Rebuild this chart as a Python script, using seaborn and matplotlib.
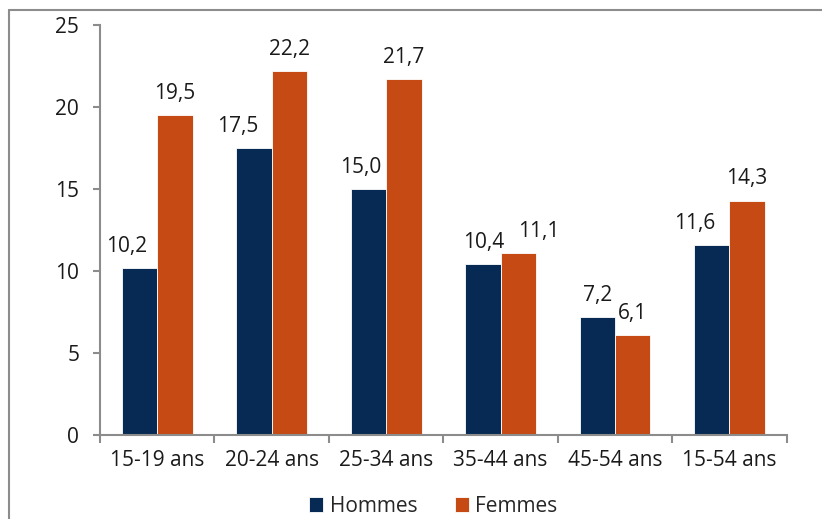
import matplotlib
matplotlib.use("Agg")
import matplotlib.pyplot as plt
import matplotlib.lines as mlines
import seaborn as sns
import pandas as pd
from matplotlib.ticker import FixedLocator

categories = ["15-19 ans", "20-24 ans", "25-34 ans", "35-44 ans", "45-54 ans", "15-54 ans"]
hommes = [10.2, 17.5, 15.0, 10.4, 7.2, 11.6]
femmes = [19.5, 22.2, 21.7, 11.1, 6.1, 14.3]
series = ["Hommes", "Femmes"]
yticks = [0, 5, 10, 15, 20, 25]

# horizontal nudges (pixels) for value labels, to keep neighbours from colliding
label_shift_h = [-13, -16, -8, 1, 0, -17.5]
label_shift_f = [0, 0, 0, 20, 0, 0]

df = pd.DataFrame({
    "groupe": categories * 2,
    "valeur": hommes + femmes,
    "sexe": [series[0]] * len(categories) + [series[1]] * len(categories),
})

sns.set_theme(style="white")
plt.rcParams["font.family"] = ["Open Sans", "DejaVu Sans"]

FS = 15
DPI = 100
PAD = 8

fig = plt.figure(figsize=(8.22, 5.19), dpi=DPI)
ax = fig.add_axes([0.1217, 0.1618, 0.8353, 0.79])

palette = {"Hommes": "#062a53", "Femmes": "#c64a14"}
sns.barplot(data=df, x="groupe", y="valeur", hue="sexe", order=categories,
            hue_order=series, palette=palette, width=0.62, gap=0,
            edgecolor="white", linewidth=0.6, saturation=1, ax=ax)

for cont, shifts in zip(ax.containers, [label_shift_h, label_shift_f]):
    anns = ax.bar_label(cont, labels=[f"{v:.1f}".replace(".", ",") for v in cont.datavalues],
                        padding=PAD, fontsize=FS, color="#1a1a1a")
    for ann, dx in zip(anns, shifts):
        ann.xyann = (dx * 72 / DPI, PAD)

ax.set_ylim(0, 25)
ax.set_xlim(-0.5, len(categories) - 0.5)
ax.set_yticks(yticks)
ax.set_xlabel("")
ax.set_ylabel("")

for s in ["top", "right"]:
    ax.spines[s].set_visible(False)
for s in ["left", "bottom"]:
    ax.spines[s].set_color("#8c8c8c")
    ax.spines[s].set_linewidth(1.5)

ax.tick_params(axis="y", which="major", left=True, length=5, width=1.5, color="#8c8c8c",
               pad=10, labelsize=FS, labelcolor="#1a1a1a")
ax.tick_params(axis="x", which="major", bottom=False, length=0, pad=11,
               labelsize=FS, labelcolor="#1a1a1a")
ax.xaxis.set_minor_locator(FixedLocator([i - 0.5 for i in range(len(categories) + 1)]))
ax.tick_params(axis="x", which="minor", bottom=True, length=6, width=1.5, color="#8c8c8c")

handles, labels = ax.get_legend_handles_labels()
ax.legend_.remove()
fig.legend(handles, labels, loc="center", bbox_to_anchor=(0.527, 0.024), ncol=2,
           frameon=False, fontsize=15, handlelength=0.7, handleheight=0.7,
           handletextpad=0.3, columnspacing=1.8)

# chart frame
fig.add_artist(mlines.Line2D([9 / 822, 1], [1 - 10 / 519, 1 - 10 / 519],
                             transform=fig.transFigure, color="#8c8c8c", lw=1.5))
fig.add_artist(mlines.Line2D([9 / 822, 9 / 822], [0, 1 - 10 / 519],
                             transform=fig.transFigure, color="#8c8c8c", lw=1.5))

fig.savefig("out.png", dpi=DPI, facecolor="white")
